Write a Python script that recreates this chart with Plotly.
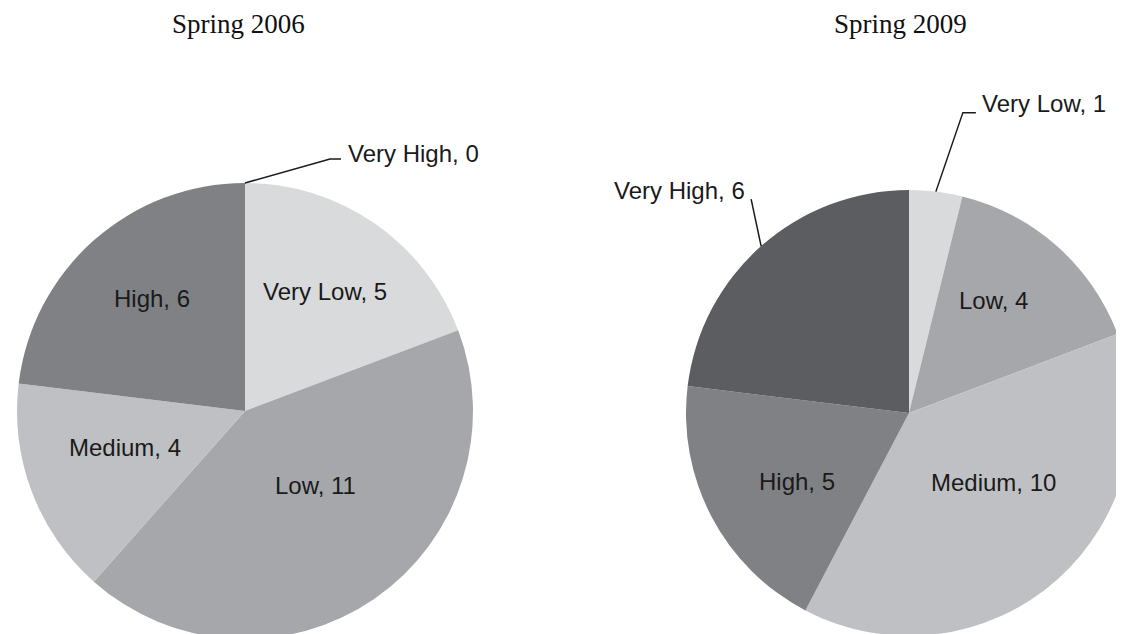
import math
import plotly.graph_objects as go

# ---- data ----
categories = ["Very Low", "Low", "Medium", "High", "Very High"]
values_2006 = [5, 11, 4, 6, 0]
values_2009 = [1, 4, 10, 5, 6]
titles = ["Spring 2006", "Spring 2009"]
colors = ["#d9dadc", "#a6a7aa", "#bfc0c3", "#808185", "#5c5d60"]

# ---- layout geometry (pixels) ----
W, H = 1124, 634
pies = [
    dict(cx=237, cy=403, r=228, title_x=230),
    dict(cx=901, cy=405, r=223, title_x=892),
]
LABEL_FONT = dict(family="Liberation Sans, Arial, sans-serif", size=24, color="#1a1a1a")
TITLE_FONT = dict(family="Liberation Serif, Times New Roman, serif", size=27, color="#111111")

# inside label placement: radius fraction and angular nudge (degrees) per slice
inside = {
    (0, "Very Low"): (0.63, -1.0),
    (0, "Low"): (0.45, -8.8),
    (0, "Medium"): (0.55, 3.8),
    (0, "High"): (0.64, 2.0),
    (1, "Low"): (0.63, -4.5),
    (1, "Medium"): (0.49, -9.0),
    (1, "High"): (0.59, -3.6),
}
# labels drawn outside with leader lines (pixel offsets from the slice edge point)
outside = {
    (0, "Very High"): dict(path=[(85, -24), (96, -24)], text=(101, -30), anchor="left"),
    (1, "Very Low"): dict(path=[(27, -79), (40, -79)], text=(44, -88), anchor="left"),
    (1, "Very High"): dict(path=[(-10, -47)], text=(-14, -56), anchor="right"),
}


def px(x):
    return x / W


def py(y):
    return 1 - y / H


fig = go.Figure()
annotations = []
shapes = []
for i, vals in enumerate([values_2006, values_2009]):
    g = pies[i]
    total = sum(vals)
    fig.add_trace(go.Pie(
        labels=categories,
        values=vals,
        sort=False,
        direction="clockwise",
        rotation=0,
        marker=dict(colors=colors, line=dict(width=0)),
        textinfo="none",
        showlegend=False,
        hoverinfo="label+value",
        domain=dict(x=[px(g["cx"] - g["r"]), min(1, px(g["cx"] + g["r"]))],
                    y=[py(g["cy"] + g["r"]), py(g["cy"] - g["r"])]),
    ))
    # title
    annotations.append(dict(
        text=titles[i], x=px(g["title_x"]), y=py(16), xref="paper", yref="paper",
        showarrow=False, xanchor="center", yanchor="middle", font=TITLE_FONT))
    cum = 0
    for c, v in zip(categories, vals):
        key = (i, c)
        mid = (cum + v / 2) / total
        cum += v
        label = f"{c}, {v}"
        if key in inside:
            rf, nudge = inside[key]
            ang = 2 * math.pi * mid + math.radians(nudge)
            tx = g["cx"] + rf * g["r"] * math.sin(ang)
            ty = g["cy"] - rf * g["r"] * math.cos(ang)
            annotations.append(dict(
                text=label, x=px(tx), y=py(ty), xref="paper", yref="paper",
                showarrow=False, xanchor="center", yanchor="middle", font=LABEL_FONT))
        elif key in outside:
            o = outside[key]
            ang = 2 * math.pi * mid
            ex = g["cx"] + g["r"] * math.sin(ang)
            ey = g["cy"] - g["r"] * math.cos(ang)
            pts = [(ex, ey)] + [(ex + dx, ey + dy) for dx, dy in o["path"]]
            path = "M " + " L ".join(f"{px(x):.5f},{py(y):.5f}" for x, y in pts)
            shapes.append(dict(type="path", path=path, xref="paper", yref="paper",
                               line=dict(color="#1a1a1a", width=1.5)))
            tx, ty = ex + o["text"][0], ey + o["text"][1]
            annotations.append(dict(
                text=label, x=px(tx), y=py(ty), xref="paper", yref="paper",
                showarrow=False, xanchor=o["anchor"], yanchor="middle", font=LABEL_FONT))

fig.update_layout(
    width=W, height=H,
    margin=dict(l=0, r=0, t=0, b=0),
    paper_bgcolor="white",
    plot_bgcolor="white",
    annotations=annotations,
    shapes=shapes,
)

fig.write_html("out.html")
